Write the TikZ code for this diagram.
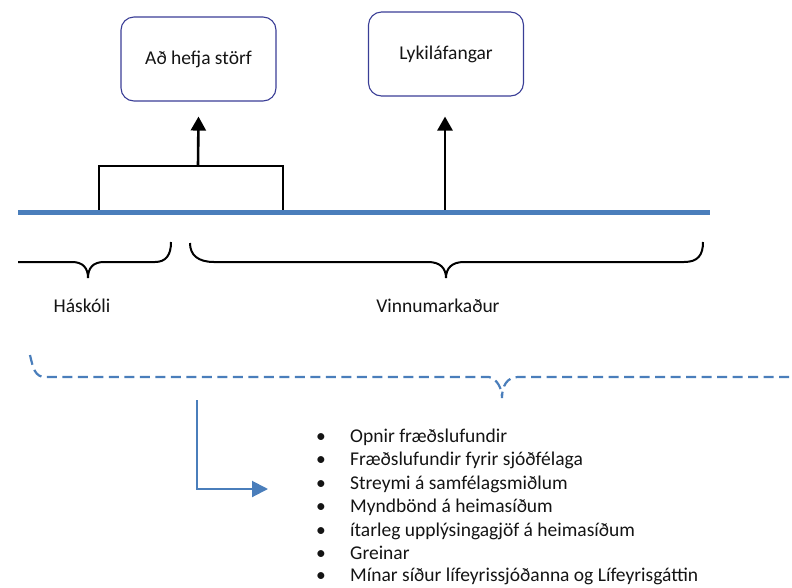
\documentclass[tikz,border=0pt]{standalone}
\usepackage{fontspec}
\setmainfont{Carlito}
\usetikzlibrary{arrows.meta}
\definecolor{lineblue}{RGB}{74,126,187}
\definecolor{boxedge}{RGB}{58,62,150}
\definecolor{txt}{RGB}{20,20,20}
\begin{document}
\begin{tikzpicture}[x=1pt,y=-1pt,
  every node/.style={font=\fontsize{19.5}{23}\selectfont, text=txt, inner sep=0pt},
  roundbox/.style={draw=boxedge, line width=1.1pt, rounded corners=13pt, minimum width=155pt, minimum height=84pt},
  blackarrow/.style={line width=2.6pt, black, -{Triangle[width=15pt,length=14pt]}},
  blackline/.style={line width=2.4pt, black},
  bracestyle/.style={line width=2pt, black},
  dbrace/.style={line width=2.2pt, lineblue, dash pattern=on 10pt off 5.5pt},
  bluearrow/.style={line width=2pt, lineblue, -{Triangle[width=16pt,length=16pt]}},
  bulletlbl/.style={anchor=base},
  itemlbl/.style={anchor=base west}]
\useasboundingbox (0,0) rectangle (792,587);
% boxes
\node[roundbox] (box1) at (198.5,59) {Að hefja störf};
\node[roundbox] (box2) at (446,54) {Lykiláfangar};
% bracket and arrows
\coordinate (bl) at (99,212);
\coordinate (br) at (283,212);
\coordinate (tl) at (99,166);
\coordinate (tr) at (283,166);
\coordinate (tm) at (198,166);
\coordinate (a2) at (445,212);
\draw[blackline] (bl) -- (tl) -- (tr) -- (br);
\draw[blackarrow] (tm) -- ([yshift=-15pt]box1.south);
\draw[blackarrow] (a2) -- ([yshift=-20pt]box2.south -| a2);
% main blue line
\coordinate (ls) at (18,212);
\coordinate (le) at (710,212);
\draw[line width=5pt, lineblue] (ls) -- (le);
% braces
\coordinate (br1s) at (18,262);
\coordinate (br2s) at (190,243);
\draw[bracestyle] (br1s) -- (72,262) .. controls (83,262) and (88,268) .. (88,278)
  .. controls (88,268) and (93,262) .. (104,262) -- (155,262)
  .. controls (166,262) and (171,255) .. (171,242);
\draw[bracestyle] (br2s) .. controls (190,255) and (198,262) .. (214,262) -- (428,262)
  .. controls (440,262) and (446,268) .. (446,278)
  .. controls (446,268) and (452,262) .. (464,262) -- (684,262)
  .. controls (698,262) and (703,255) .. (703,242);
\node[anchor=base] (hask) at (82,312) {Háskóli};
\node[anchor=base] (vinn) at (438,312) {Vinnumarkaður};
% dashed brace
\coordinate (dbs) at (30,355);
\coordinate (dbe) at (792,377);
\draw[dbrace] (dbs) .. controls (33,368) and (35,377) .. (45,377) -- (489,377)
  .. controls (497,379) and (502,388) .. (502,398)
  .. controls (502,386) and (507,377) .. (518,377) -- (dbe);
% elbow arrow
\coordinate (es) at (197,400);
\coordinate (ec) at (197,489);
\coordinate (ee) at (268,489);
\draw[bluearrow] (es) -- (ec) -- (ee);
% bullet list
\foreach \y/\t [count=\i] in {442/Opnir fræðslufundir,465.5/Fræðslufundir fyrir sjóðfélaga,489/Streymi á samfélagsmiðlum,512.5/Myndbönd á heimasíðum,536/ítarleg upplýsingagjöf á heimasíðum,559/Greinar,581.5/Mínar síður lífeyrissjóðanna og Lífeyrisgáttin}{
  \node[bulletlbl] (b\i) at (321,\y) {\textbullet};
  \node[itemlbl] (t\i) at (350,\y) {\t};
}
\end{tikzpicture}
\end{document}
